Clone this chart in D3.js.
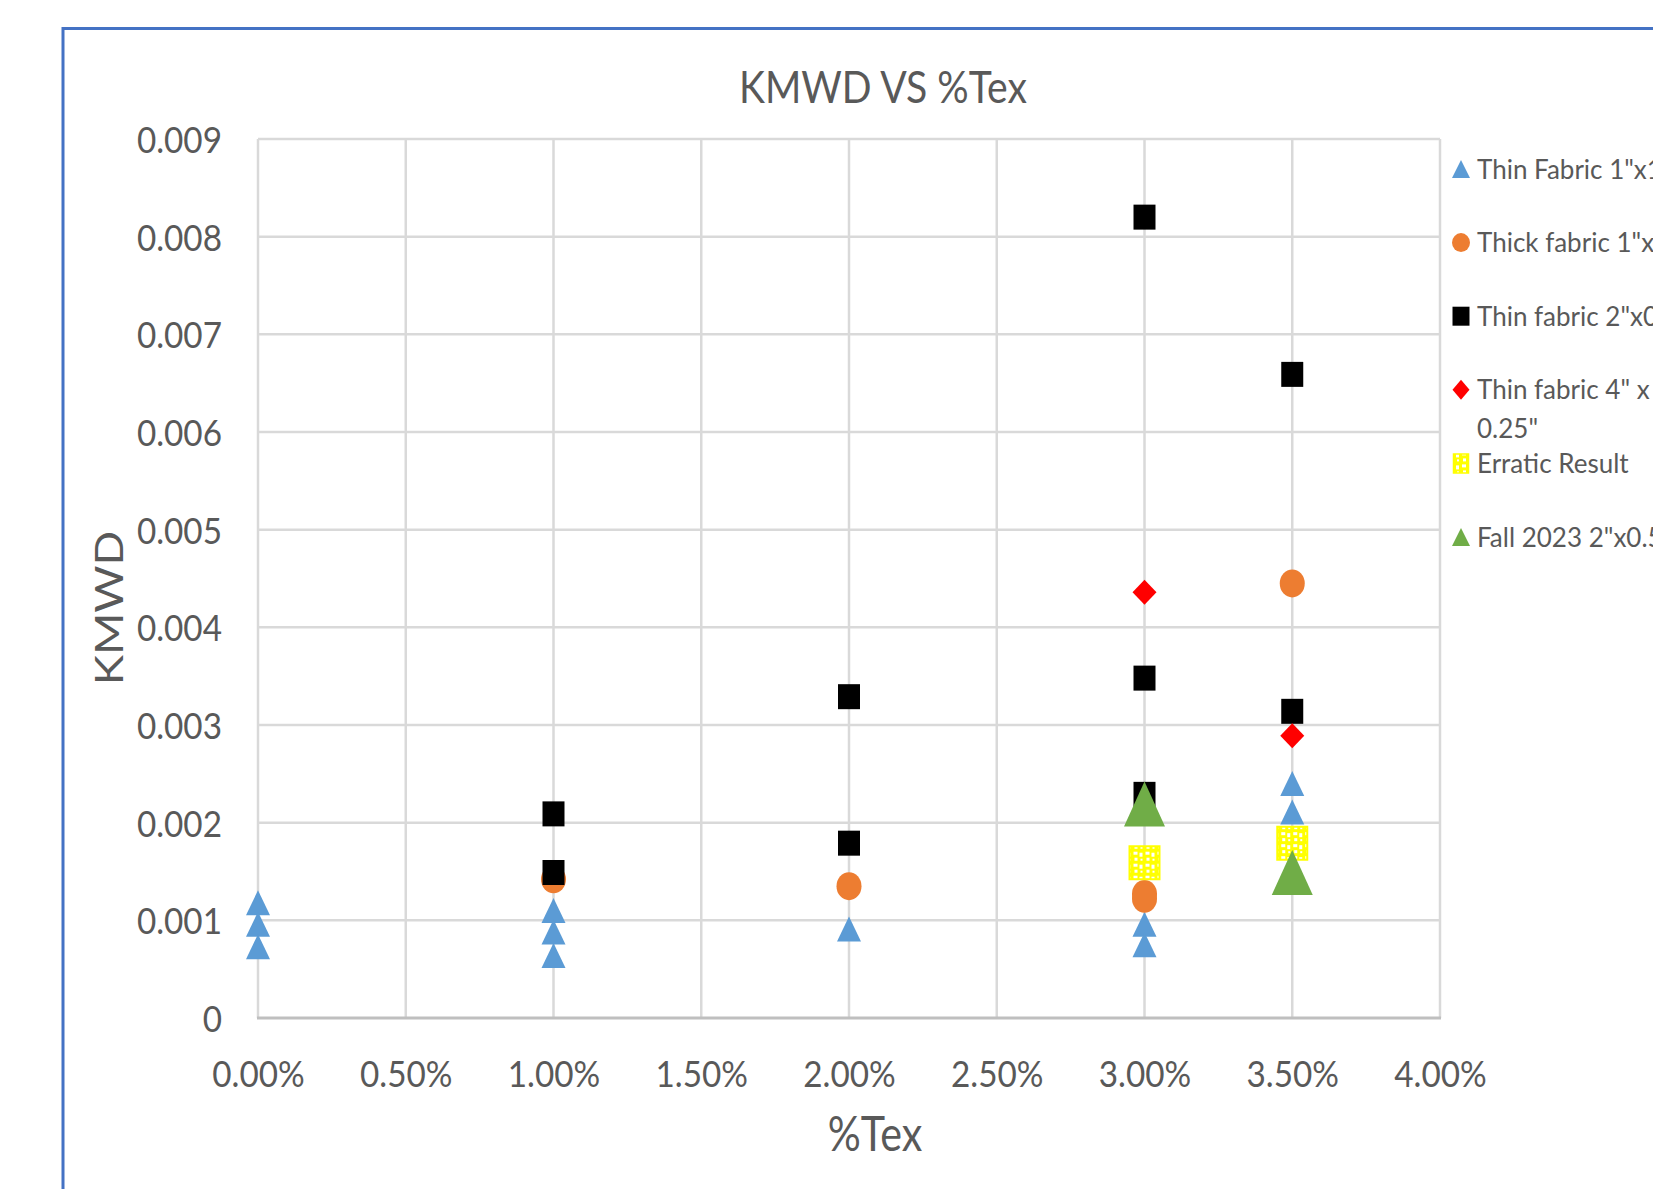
<!DOCTYPE html>
<html>
<head>
<meta charset="utf-8">
<script src="https://cdn.jsdelivr.net/npm/d3@7"></script>
<style>
  body { margin: 0; background: #fff; }
  svg { display: block; }
  text { font-family: Lato, "Open Sans", sans-serif; fill: #595959; }
</style>
</head>
<body>
<svg id="chart" width="1653" height="1189"></svg>
<script>
// ---------------- DATA ----------------
const chartTitle = "KMWD VS %Tex";
const xAxisTitle = "%Tex";
const yAxisTitle = "KMWD";
const xTicks = [0, 0.5, 1, 1.5, 2, 2.5, 3, 3.5, 4];           // percent
const yTicks = [0, 0.001, 0.002, 0.003, 0.004, 0.005, 0.006, 0.007, 0.008, 0.009];

const seriesNames = [
  ["Thin Fabric 1\"x1\""],
  ["Thick fabric 1\"x1\""],
  ["Thin fabric 2\"x0.5\""],
  ["Thin fabric 4\" x", "0.25\""],
  ["Erratic Result"],
  ["Fall 2023 2\"x0.5\""]
];

// [%Tex, KMWD]
const thinFabric1x1 = [[0, 0.00118], [0, 0.00096], [0, 0.00073],
                       [1, 0.00110], [1, 0.00088], [1, 0.00064],
                       [2, 0.00091],
                       [3, 0.00096], [3, 0.00075],
                       [3.5, 0.00240], [3.5, 0.00211]];
const thickFabric1x1 = [[1, 0.00142], [2, 0.00135], [3, 0.00127], [3, 0.00122], [3.5, 0.00445]];
const thinFabric2x05 = [[1, 0.00209], [1, 0.00149], [2, 0.00329], [2, 0.00179],
                        [3, 0.00820], [3, 0.00348], [3, 0.00229],
                        [3.5, 0.00659], [3.5, 0.00314]];
const thinFabric4x025 = [[3, 0.00436], [3.5, 0.00289]];
const erraticResult = [[3, 0.00159], [3.5, 0.00179]];
const fall2023 = [[3, 0.00219], [3.5, 0.00149]];

const seriesData = [thinFabric1x1, thickFabric1x1, thinFabric2x05, thinFabric4x025, erraticResult, fall2023];

// ---------------- STYLES ----------------
const seriesStyle = [
  { shape: "triangle", color: "#5B9BD5", w: 24, h: 25, lw: 18, lh: 18 },
  { shape: "circle",   color: "#ED7D31", w: 25, h: 28, lw: 18, lh: 19 },
  { shape: "square",   color: "#000000", w: 22, h: 25, lw: 17, lh: 19 },
  { shape: "diamond",  color: "#FF0000", w: 24, h: 25, lw: 17, lh: 20 },
  { shape: "pattern",  color: "#FFFF00", w: 30, h: 33, lw: 15, lh: 19 },
  { shape: "triangle", color: "#70AD47", w: 41, h: 45, lw: 18, lh: 18 }
];

const svg = d3.select("#chart");
const W = 1653, H = 1189;

// pattern for erratic result
const defs = svg.append("defs");
const pat = defs.append("pattern").attr("id", "confetti")
  .attr("patternUnits", "userSpaceOnUse").attr("width", 12).attr("height", 12);
pat.append("rect").attr("width", 12).attr("height", 12).attr("fill", "#FFFF00");
[[1,1,4,3],[7,2,3,4],[2,7,3,3],[8,8,2,2]].forEach(r =>
  pat.append("rect").attr("x", r[0]).attr("y", r[1]).attr("width", r[2]).attr("height", r[3]).attr("fill", "#fff"));

// chart border
svg.append("rect").attr("x", 63).attr("y", 28.5).attr("width", W).attr("height", H)
  .attr("fill", "#fff").attr("stroke", "#4472C4").attr("stroke-width", 3);

// scales
const x = d3.scaleLinear().domain([0, 4]).range([258, 1440]);
const y = d3.scaleLinear().domain([0, 0.009]).range([1018, 139]);

// gridlines
svg.append("g").selectAll("line").data(xTicks).join("line")
  .attr("x1", d => x(d)).attr("x2", d => x(d))
  .attr("y1", y(0.009)).attr("y2", y(0))
  .attr("stroke", "#D9D9D9").attr("stroke-width", 2.5);
svg.append("g").selectAll("line").data(yTicks.filter(d => d > 0)).join("line")
  .attr("x1", x(0)).attr("x2", x(4))
  .attr("y1", d => y(d)).attr("y2", d => y(d))
  .attr("stroke", "#D9D9D9").attr("stroke-width", 2.5);
svg.append("line").attr("x1", x(0) - 1).attr("x2", x(4) + 1).attr("y1", y(0)).attr("y2", y(0))
  .attr("stroke", "#BFBFBF").attr("stroke-width", 3);

// axes
const gx = svg.append("g").attr("transform", `translate(0,${y(0)})`)
  .call(d3.axisBottom(x).tickValues(xTicks).tickFormat(d => d.toFixed(2) + "%").tickSize(0));
gx.select(".domain").remove();
gx.selectAll("text")
  .attr("y", 0).attr("dy", null)
  .attr("transform", "translate(0,69) scale(0.9,1)")
  .attr("font-size", 37).attr("font-family", "Lato").attr("fill", "#595959");

const gy = svg.append("g")
  .call(d3.axisLeft(y).tickValues(yTicks).tickFormat(d => d === 0 ? "0" : d.toFixed(3)).tickSize(0));
gy.select(".domain").remove();
gy.selectAll("text")
  .attr("x", 0).attr("dy", null).attr("y", 0)
  .attr("text-anchor", "end")
  .attr("transform", "translate(222,13.5) scale(0.9,1)")
  .attr("font-size", 37).attr("font-family", "Lato").attr("fill", "#595959");

// titles
svg.append("text").text(chartTitle)
  .attr("text-anchor", "middle").attr("font-size", 44)
  .attr("transform", "translate(883,103) scale(0.89,1)");
svg.append("text").text(xAxisTitle)
  .attr("text-anchor", "middle").attr("font-size", 48)
  .attr("transform", "translate(875,1151) scale(0.86,1)");
svg.append("text").text(yAxisTitle)
  .attr("text-anchor", "middle").attr("font-size", 39)
  .attr("transform", "translate(123,608) rotate(-90) scale(1.17,1)");

// marker paths
function markerPath(shape, w, h) {
  const a = w / 2, b = h / 2;
  if (shape === "triangle") return `M0,${-b}L${a},${b}L${-a},${b}Z`;
  if (shape === "diamond") return `M0,${-b}L${a},0L0,${b}L${-a},0Z`;
  if (shape === "circle") {
    return `M${-a},0A${a},${b} 0 1,0 ${a},0A${a},${b} 0 1,0 ${-a},0Z`;
  }
  // square / pattern
  return `M${-a},${-b}H${a}V${b}H${-a}Z`;
}
function fillFor(st) { return st.shape === "pattern" ? "url(#confetti)" : st.color; }

// points
seriesData.forEach((data, i) => {
  const st = seriesStyle[i];
  svg.append("g").selectAll("path").data(data).join("path")
    .attr("d", markerPath(st.shape, st.w, st.h))
    .attr("transform", d => `translate(${x(d[0])},${y(d[1])})`)
    .attr("fill", fillFor(st))
    .attr("stroke", st.shape === "pattern" ? "#FFFF00" : "none")
    .attr("stroke-width", 2);
});

// legend
const legendY0 = 169, legendStep = 73.6, legendMarkerX = 1461, legendTextX = 1477;
const lg = svg.append("g").selectAll("g").data(seriesNames).join("g")
  .attr("transform", (d, i) => `translate(0,${legendY0 + i * legendStep})`);
lg.append("path")
  .attr("d", (d, i) => markerPath(seriesStyle[i].shape, seriesStyle[i].lw, seriesStyle[i].lh))
  .attr("transform", `translate(${legendMarkerX},0)`)
  .attr("fill", (d, i) => fillFor(seriesStyle[i]))
  .attr("stroke", (d, i) => seriesStyle[i].shape === "pattern" ? "#FFFF00" : "none")
  .attr("stroke-width", 1.5);
lg.each(function(lines) {
  const t = d3.select(this).append("text").attr("font-size", 26);
  lines.forEach((ln, j) => {
    t.append("tspan").attr("x", legendTextX).attr("y", 9.5 + j * 39).text(ln);
  });
});
</script>
</body>
</html>
